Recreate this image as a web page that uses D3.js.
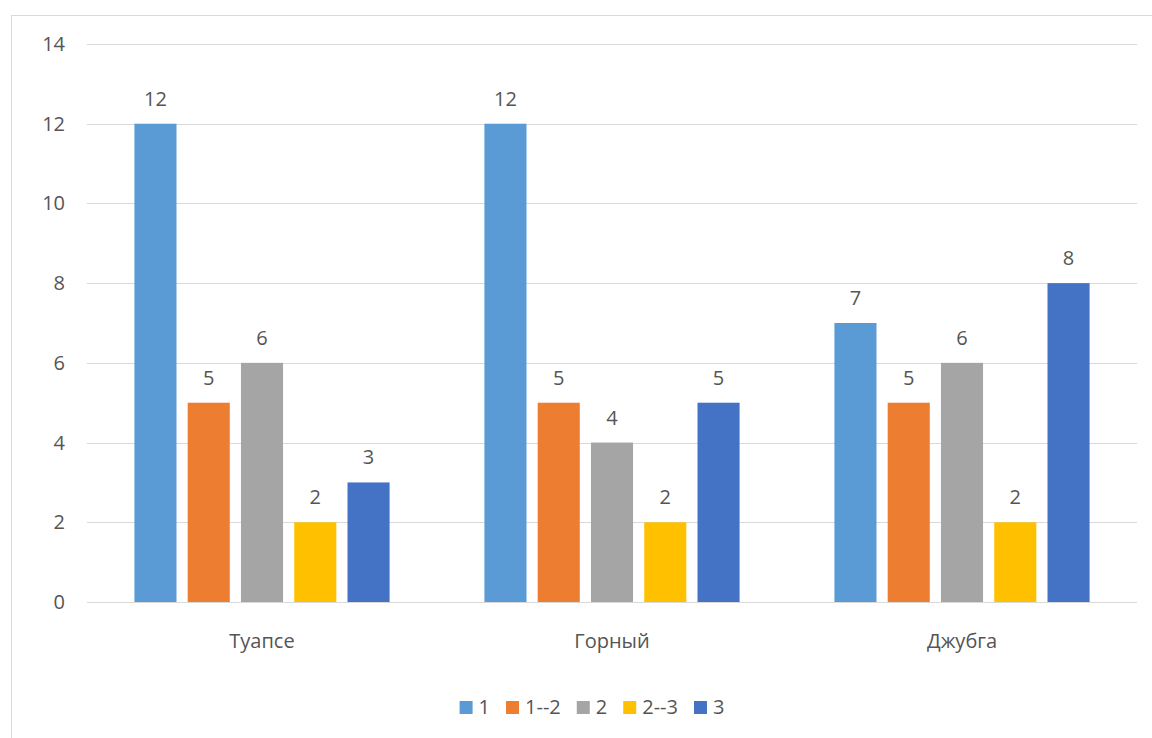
<!DOCTYPE html>
<html>
<head>
<meta charset="utf-8">
<script src="https://cdn.jsdelivr.net/npm/d3@7"></script>
<style>
  html, body { margin: 0; padding: 0; background: #fff; }
  svg { display: block; }
  text { font-family: "Open Sans", "Noto Sans", sans-serif; fill: #555555; }
</style>
</head>
<body>
<svg id="chart" width="1152" height="738"></svg>
<script>
// Stations and the count of samples in each class
const categories = ["Туапсе", "Горный", "Джубга"];
const seriesNames = ["1", "1--2", "2", "2--3", "3"];
const seriesColors = ["#5B9BD5", "#ED7D31", "#A5A5A5", "#FFC000", "#4472C4"];
const values1 = [12, 12, 7];
const values12 = [5, 5, 5];
const values2 = [6, 4, 6];
const values23 = [2, 2, 2];
const values3 = [3, 5, 8];
const yTicks = [0, 2, 4, 6, 8, 10, 12, 14];

const seriesValues = [values1, values12, values2, values23, values3];
const FONT = 20;

const svg = d3.select("#chart");

// chart frame
svg.append("rect")
  .attr("x", 11.5).attr("y", 15.5)
  .attr("width", 1150).attr("height", 740)
  .attr("fill", "none").attr("stroke", "#d9d9d9").attr("stroke-width", 1);

const plot = { left: 87, right: 1137, top: 44, bottom: 602 };

const y = d3.scaleLinear().domain([0, 14]).range([plot.bottom, plot.top]);
const x0 = d3.scaleBand().domain(categories).range([plot.left, plot.right]).padding(0);
const x1 = d3.scaleBand().domain(seriesNames).range([0, x0.bandwidth()])
  .paddingInner(0.21).paddingOuter(0.89);

// gridlines
svg.append("g").selectAll("line").data(yTicks).join("line")
  .attr("x1", plot.left).attr("x2", plot.right)
  .attr("y1", d => Math.round(y(d)) + 0.5).attr("y2", d => Math.round(y(d)) + 0.5)
  .attr("stroke", "#d9d9d9").attr("stroke-width", 1);

// y tick labels
svg.append("g").selectAll("text").data(yTicks).join("text")
  .attr("x", 65).attr("y", d => y(d)).attr("dy", "0.35em")
  .attr("text-anchor", "end").attr("font-size", FONT)
  .text(d => d);

// bars and value labels
const groups = svg.append("g").selectAll("g").data(categories).join("g")
  .attr("transform", d => `translate(${x0(d)},0)`);

groups.each(function(cat, ci) {
  const g = d3.select(this);
  const rows = seriesNames.map((s, si) => ({ s, si, v: seriesValues[si][ci] }));
  g.selectAll("rect").data(rows).join("rect")
    .attr("x", d => x1(d.s)).attr("width", x1.bandwidth())
    .attr("y", d => y(d.v)).attr("height", d => y(0) - y(d.v))
    .attr("fill", d => seriesColors[d.si]);
  g.selectAll("text").data(rows).join("text")
    .attr("x", d => x1(d.s) + x1.bandwidth() / 2)
    .attr("y", d => y(d.v) - 18)
    .attr("text-anchor", "middle").attr("font-size", FONT)
    .text(d => d.v);
});

// category labels
svg.append("g").selectAll("text").data(categories).join("text")
  .attr("x", d => x0(d) + x0.bandwidth() / 2).attr("y", 648)
  .attr("text-anchor", "middle").attr("font-size", FONT)
  .text(d => d);

// legend: swatch, label, then a gap before the next entry
const legend = svg.append("g");
const sw = 13, afterSwatch = 6, gap = 16;
const items = legend.selectAll("g").data(seriesNames).join("g");
items.append("rect").attr("y", 701).attr("width", sw).attr("height", sw)
  .attr("fill", (d, i) => seriesColors[i]);
items.append("text").attr("x", sw + afterSwatch).attr("y", 714)
  .attr("font-size", FONT).text(d => d);
let lx = 0;
items.each(function() {
  const w = d3.select(this).select("text").node().getComputedTextLength();
  d3.select(this).attr("transform", `translate(${lx},0)`);
  lx += sw + afterSwatch + w + gap;
});
const totalW = lx - gap;
legend.attr("transform", `translate(${592 - totalW / 2},0)`);
</script>
</body>
</html>
